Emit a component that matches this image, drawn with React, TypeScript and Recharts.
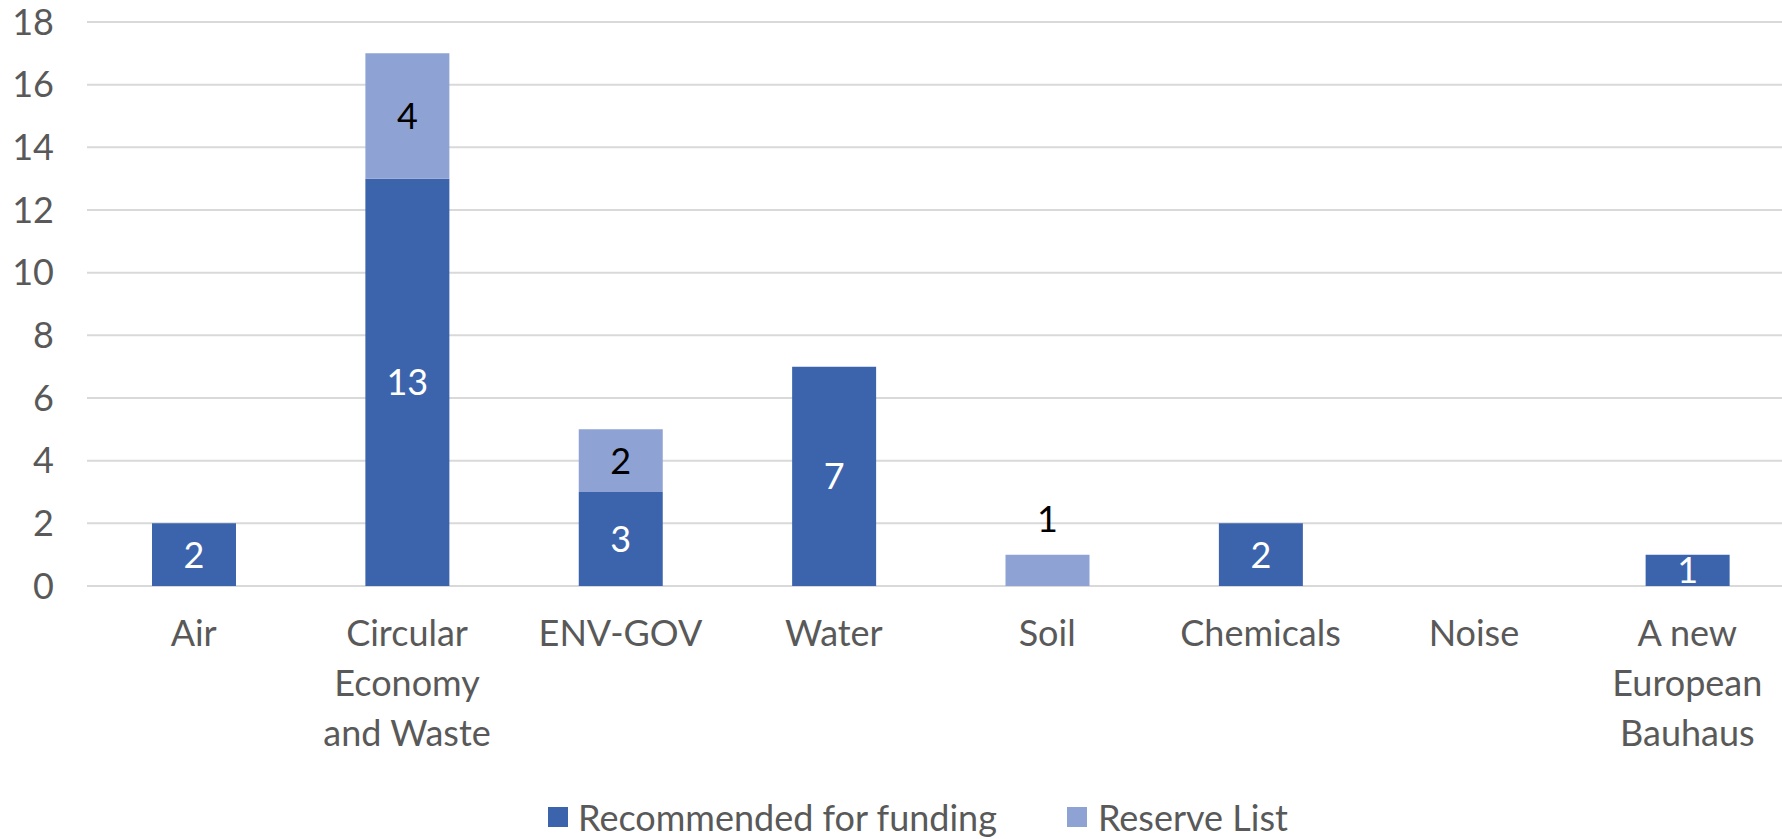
import React from 'react';
import { BarChart, Bar, XAxis, YAxis, CartesianGrid, Legend, LabelList } from 'recharts';

const categories = [
  'Air',
  'Circular\nEconomy\nand Waste',
  'ENV-GOV',
  'Water',
  'Soil',
  'Chemicals',
  'Noise',
  'A new\nEuropean\nBauhaus',
];
const recommended = [2, 13, 3, 7, 0, 2, 0, 1];
const reserve = [0, 4, 2, 0, 1, 0, 0, 0];
const yTicks = [0, 2, 4, 6, 8, 10, 12, 14, 16, 18];

const data = categories.map((name, i) => ({
  name,
  recommended: recommended[i],
  reserve: reserve[i],
  // reserve label goes above the bar when there is no recommended segment under it
  reserveLabel: { v: reserve[i], above: !recommended[i] },
}));

const FONT = 'Lato, "Open Sans", sans-serif';
const DARK = '#3b64ad';
const LIGHT = '#8fa2d4';
const TEXT = '#595959';

const CategoryTick = (props: any) => {
  const { x, y, payload } = props;
  const lines = String(payload.value).split('\n');
  return (
    <text x={x} y={y} textAnchor="middle" fill={TEXT} fontSize={36} fontFamily={FONT}>
      {lines.map((line, i) => (
        <tspan key={i} x={x} dy={i === 0 ? 60 : 50}>
          {line}
        </tspan>
      ))}
    </text>
  );
};

// white labels inside the dark segments, skip zeros
const darkLabel = (props: any) => {
  const { x, y, width, height, value } = props;
  if (!value) return null;
  return (
    <text x={x + width / 2} y={y + height / 2} dy="0.36em" textAnchor="middle" fill="#ffffff" fontSize={36} fontFamily={FONT}>
      {value}
    </text>
  );
};

// black labels for reserve list
const lightLabel = (props: any) => {
  const { x, y, width, height, value } = props;
  if (!value || !value.v) return null;
  const cy = value.above ? y - 36 : y + height / 2;
  return (
    <text x={x + width / 2} y={cy} dy="0.36em" textAnchor="middle" fill="#000000" fontSize={36} fontFamily={FONT}>
      {value.v}
    </text>
  );
};

const LegendContent = () => (
  <div style={{ display: 'flex', alignItems: 'center', height: 38, paddingLeft: 548, fontFamily: FONT, fontSize: 36, color: TEXT, lineHeight: '38px' }}>
    <span style={{ width: 20, height: 20, background: DARK, display: 'inline-block', marginRight: 10 }} />
    <span>Recommended for funding</span>
    <span style={{ width: 20, height: 20, background: LIGHT, display: 'inline-block', marginLeft: 70, marginRight: 11 }} />
    <span>Reserve List</span>
  </div>
);

export default function App() {
  return (
    <div style={{ position: 'absolute', left: 0, top: 0, width: 1782, height: 839, overflow: 'hidden', background: '#fff' }}>
      <BarChart width={1794} height={839} data={data} margin={{ top: 22, right: 0, bottom: 0, left: 0 }}>
        <CartesianGrid vertical={false} stroke="#d9d9d9" strokeWidth={2} />
        <XAxis
          dataKey="name"
          axisLine={false}
          tickLine={false}
          tickSize={0}
          tickMargin={0}
          height={215}
          interval={0}
          tick={<CategoryTick />}
        />
        <YAxis
          domain={[0, 18]}
          ticks={yTicks}
          width={87}
          axisLine={false}
          tickLine={false}
          tickSize={0}
          tickMargin={33}
          tick={{ fill: TEXT, fontSize: 36, fontFamily: FONT }}
        />
        <Legend verticalAlign="bottom" height={38} wrapperStyle={{ left: 0, bottom: 3, width: 1794 }} content={<LegendContent />} />
        <Bar dataKey="recommended" name="Recommended for funding" stackId="a" fill={DARK} barSize={84} isAnimationActive={false}>
          <LabelList dataKey="recommended" content={darkLabel} />
        </Bar>
        <Bar dataKey="reserve" name="Reserve List" stackId="a" fill={LIGHT} barSize={84} isAnimationActive={false}>
          <LabelList dataKey="reserveLabel" content={lightLabel} />
        </Bar>
      </BarChart>
    </div>
  );
}
